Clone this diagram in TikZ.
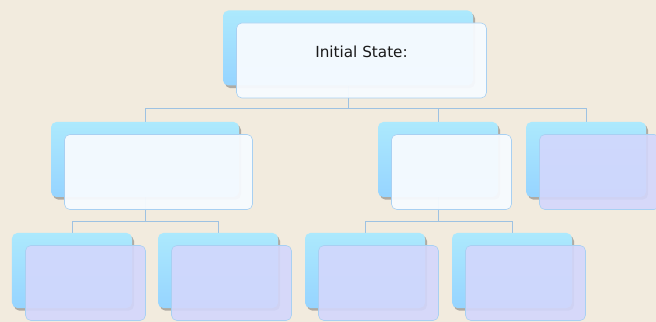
\documentclass[tikz,border=0pt]{standalone}
\usepackage{fontspec}
\setmainfont{DejaVu Sans}
\usetikzlibrary{positioning,shadows}
\definecolor{paper}{RGB}{242,235,222}
\definecolor{skytop}{RGB}{172,233,253}
\definecolor{skybot}{RGB}{150,212,255}
\definecolor{cardwhite}{RGB}{247,251,255}
\definecolor{cardlav}{RGB}{211,215,252}
\definecolor{cardedge}{RGB}{168,208,242}
\definecolor{linkblue}{RGB}{158,194,226}
\pgfdeclarelayer{bg}
\pgfsetlayers{bg,main}
\tikzset{
  back/.style={rounded corners=1.6mm, top color=skytop, bottom color=skybot,
               minimum height=22.5mm, inner sep=0pt,
               drop shadow={shadow xshift=0.6mm, shadow yshift=-0.8mm,
                            opacity=0.4, fill=black!70}},
  front/.style={rounded corners=1.6mm, draw=cardedge, line width=0.5pt,
                fill=cardwhite, fill opacity=0.95, minimum height=22.5mm, inner sep=0pt},
  lav/.style={front, fill=cardlav, fill opacity=0.9},
  link/.style={linkblue, line width=0.6pt},
  ttl/.style={font=\fontsize{13}{15}\selectfont, text=black!90},
}
% one topic: shaded back card plus the offset front card
\newcommand{\topic}[4]{%
  \node[back, minimum width=#3] (#1) at (#2) {};
  \node[#4, minimum width=#3] (#1-f) at ([shift={(13.5,12.5)}]#1) {};}

\begin{document}
\begin{tikzpicture}[x=0.3mm, y=-0.3mm]
    \useasboundingbox (0,0) rectangle (656,322);
    \begin{pgfonlayer}{bg}
      \fill[paper] (0,0) rectangle (656,322);
    \end{pgfonlayer}
    % root
    \topic{root}{348,48}{75mm}{front}
    \node[ttl] (title) at ([shift={(0,-9)}]root-f) {Initial State:};
    % first level
    \topic{l1a}{145,159.5}{56.4mm}{front}
    \topic{l1b}{438,159.5}{36mm}{front}
    \topic{l1c}{586,159.5}{36mm}{lav}
    % second level
    \topic{l2a}{72,270.5}{36mm}{lav}
    \topic{l2b}{218,270.5}{36mm}{lav}
    \topic{l2c}{365,270.5}{36mm}{lav}
    \topic{l2d}{512,270.5}{36mm}{lav}
    \begin{pgfonlayer}{bg}
      \foreach \kid in {l1a,l1b,l1c}
        \draw[link] (root.south) -- ++(0,23) -| (\kid.north);
      \foreach \kid in {l2a,l2b}
        \draw[link] (l1a.south) -- ++(0,24) -| (\kid.north);
      \foreach \kid in {l2c,l2d}
        \draw[link] (l1b.south) -- ++(0,24) -| (\kid.north);
    \end{pgfonlayer}
  \end{tikzpicture}
\end{document}
